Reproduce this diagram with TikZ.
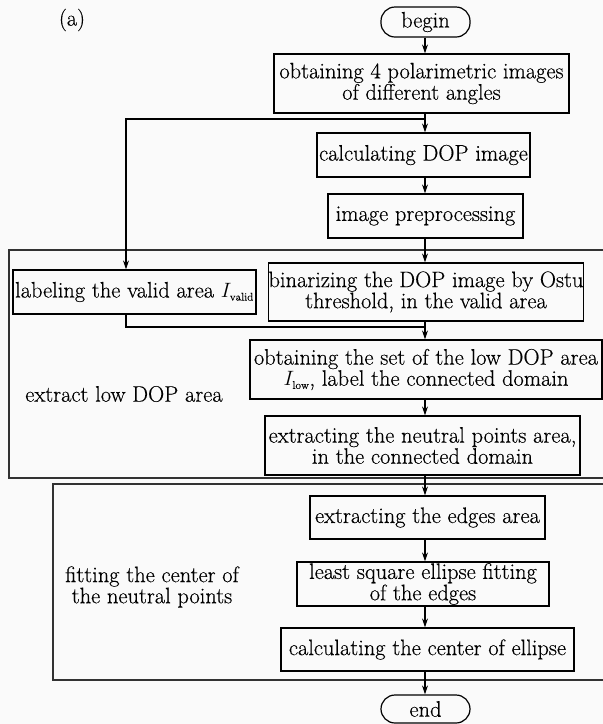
\documentclass[tikz,border=0pt]{standalone}
\usepackage{fontspec}
\setmainfont{Latin Modern Roman}[FakeBold=0.35]
\usetikzlibrary{arrows.meta}
\definecolor{bgc}{RGB}{250,250,250}
\definecolor{framec}{RGB}{50,50,50}
\tikzset{
  box/.style={draw, line width=1.2pt, rectangle, inner sep=0pt, align=center, font=\fontsize{22.4}{20}\selectfont},
  term/.style={box, rounded corners=14pt},
  frm/.style={draw=framec, line width=1.2pt},
  lbl/.style={inner sep=0pt, align=center, font=\fontsize{22.4}{20}\selectfont},
  arr/.style={line width=1.2pt, -{Stealth[length=9pt,width=6pt]}},
  ln/.style={line width=1.2pt}
}
\newcommand{\subsm}[1]{_{\scriptscriptstyle\mathrm{#1}}}
\begin{document}
\begin{tikzpicture}[x=1pt,y=-1pt]
\fill[bgc] (0,0) rectangle (603,724);
\useasboundingbox (0,0) rectangle (603,724);
% frames
\draw[frm] (609,250) -- (9,250) -- (9,478) -- (609,478);
\draw[frm] (609,484) -- (53,484) -- (53,680) -- (609,680);
% nodes
\node[lbl] (a) at (72,20) {(a)};
\node[term, minimum width=89pt, minimum height=30pt] (begin) at (425.5,22) {begin};
\node[box, minimum width=295pt, minimum height=59pt] (obtain) at (421.5,83.5) {obtaining 4 polarimetric images\\of different angles};
\node[box, minimum width=213pt, minimum height=44pt] (calc) at (423.5,155) {calculating DOP image};
\node[box, minimum width=195pt, minimum height=44pt] (prep) at (425.5,216) {image preprocessing};
\node[box, minimum width=243pt, minimum height=44pt] (label) at (134.5,292) {labeling the valid area $I\subsm{valid}$};
\node[box, minimum width=314pt, minimum height=58pt] (binar) at (426,292) {binarizing the DOP image by Ostu\\threshold, in the valid area};
\node[box, minimum width=352pt, minimum height=59pt] (low) at (426,369.5) {obtaining the set of the low DOP area\\$I\subsm{low}$, label the connected domain};
\node[box, minimum width=315pt, minimum height=59pt] (neutral) at (422.5,445.5) {extracting the neutral points area,\\in the connected domain};
\node[box, minimum width=235pt, minimum height=43pt] (edges) at (427.5,517.5) {extracting the edges area};
\node[box, minimum width=252pt, minimum height=44pt] (least) at (423,584) {least square ellipse fitting\\of the edges};
\node[box, minimum width=293pt, minimum height=43pt] (center) at (427.5,649.5) {calculating the center of ellipse};
\node[term, minimum width=89pt, minimum height=28pt] (end) at (425.5,709) {end};
\node[lbl] (t1) at (124,394) {extract low DOP area};
\node[lbl] (t2) at (152,587) {fitting the center of\\the neutral points};
% junction coordinates
\coordinate (j1) at (425,119);
\coordinate (jL) at (126,119);
\coordinate (m1) at (126,327);
\coordinate (m2) at (425,327);
% connectors
\draw[arr] (begin.south -| j1) -- (obtain.north -| j1);
\draw[arr] (obtain.south -| j1) -- (calc.north -| j1);
\draw[arr] (j1) -- (jL) -- (jL |- label.north);
\draw[arr] (calc.south -| j1) -- (prep.north -| j1);
\draw[arr] (prep.south -| j1) -- (binar.north -| j1);
\draw[ln] (jL |- label.south) -- (m1) -- (m2);
\draw[arr] (binar.south -| j1) -- (low.north -| j1);
\draw[arr] (low.south -| j1) -- (neutral.north -| j1);
\draw[arr] (neutral.south -| j1) -- (edges.north -| j1);
\draw[arr] (edges.south -| j1) -- (least.north -| j1);
\draw[arr] (least.south -| j1) -- (center.north -| j1);
\draw[arr] (center.south -| j1) -- (end.north -| j1);
\end{tikzpicture}
\end{document}
